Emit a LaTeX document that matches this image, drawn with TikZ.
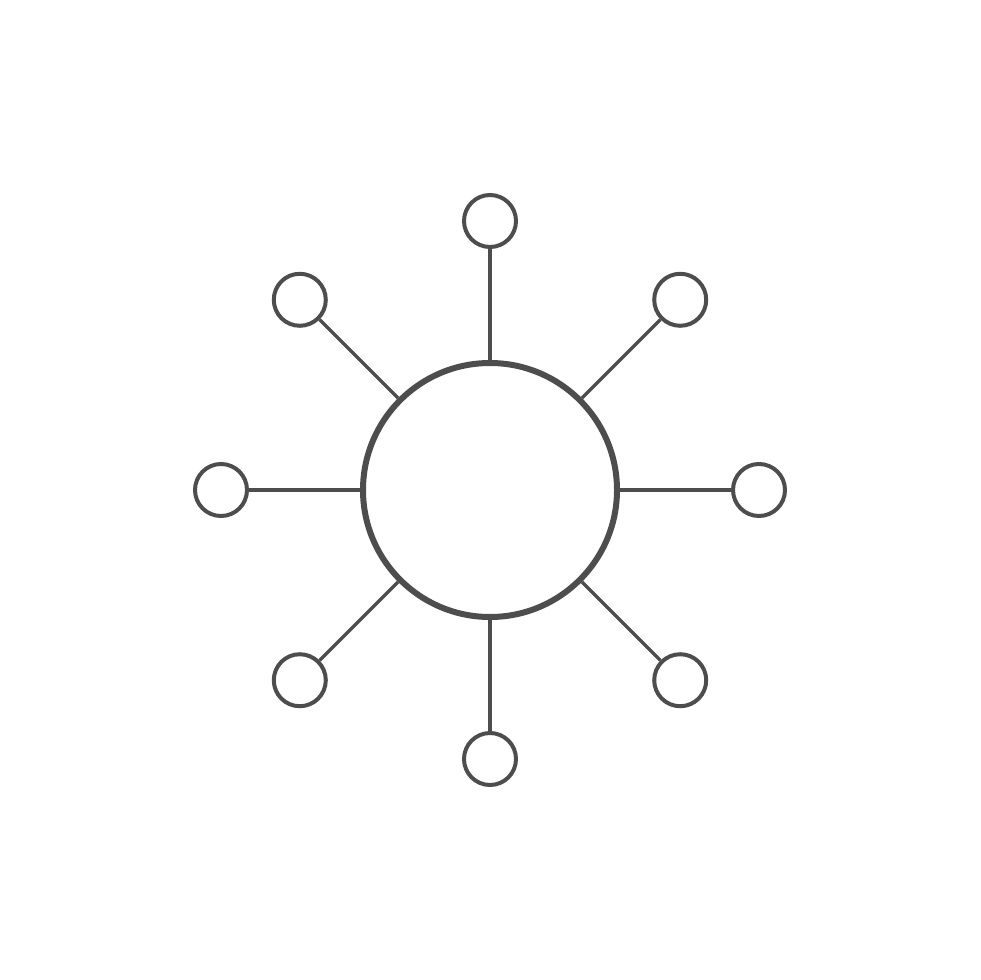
\documentclass[tikz,border=0pt]{standalone}
\usepackage{tikz}
\usetikzlibrary{calc}

\definecolor{hubgray}{RGB}{77,77,77}
\tikzset{every picture/.style={line width=0.75pt}}
\tikzset{
  hub/.style={draw=hubgray, circle, line width=4.5pt, minimum size=190.5pt, inner sep=0pt},
  leaf/.style={draw=hubgray, circle, line width=3pt, minimum size=39pt, inner sep=0pt},
  spoke/.style={draw=hubgray, line width=2.6pt}
}

\begin{document}
\begin{tikzpicture}[x=0.75pt,y=0.75pt,yscale=-1,xscale=1]
\useasboundingbox (0,0) rectangle (980,980);

% Hub
\node [hub] (hub) at (490,490) {};

% Leaves and spokes
\foreach \i/\ang in {1/90,2/45,3/0,4/-45,5/-90,6/-135,7/180,8/135} {
  \node [leaf] (leaf\i) at ($(490,490)+(\ang:269)$) {};
  \draw [spoke] (hub) -- (leaf\i);
}

\end{tikzpicture}
\end{document}
